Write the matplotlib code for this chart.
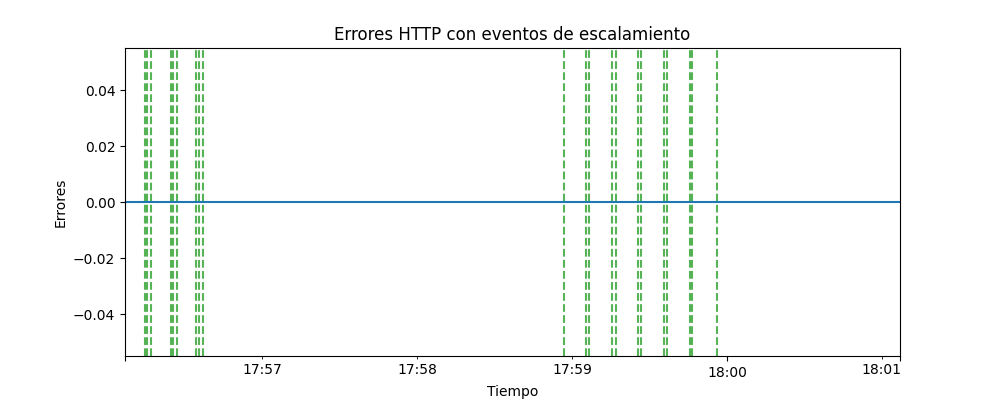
import pandas as pd
import matplotlib
matplotlib.use('Agg')
import matplotlib.pyplot as plt
import matplotlib.dates as mdates

# %%
day = '2024-01-01 '

tiempo = ['17:56:07', '17:56:37', '17:57:07', '17:57:37', '17:58:07', '17:58:37',
          '17:59:07', '17:59:37', '18:00:07', '18:00:37', '18:01:07']
errores = [0, 0, 0, 0, 0, 0, 0, 0, 0, 0, 0]

# eventos de escalamiento
eventos = ['17:56:14.9', '17:56:15.7', '17:56:17.0',
           '17:56:24.9', '17:56:25.7', '17:56:27.0',
           '17:56:34.6', '17:56:35.8', '17:56:37.0',
           '17:58:56.9',
           '17:59:05.6', '17:59:06.8',
           '17:59:15.7', '17:59:16.9',
           '17:59:25.6', '17:59:26.8',
           '17:59:35.6', '17:59:36.8',
           '17:59:45.8', '17:59:46.5',
           '17:59:56.0']

major_ticks = ['17:56:07', '18:00:00', '18:01:07']
major_labels = ['', '18:00', '']
minor_ticks = ['17:57:00', '17:58:00', '17:59:00', '18:01:00']
minor_labels = ['17:57', '17:58', '17:59', '18:01']

# %%
t = pd.to_datetime([day + s for s in tiempo])
ev = pd.to_datetime([day + s for s in eventos])

fig, ax = plt.subplots(figsize=(10, 4), dpi=100)
for e in ev:
    ax.axvline(mdates.date2num(e), color='tab:green', linestyle='--', alpha=0.8)
ax.plot(mdates.date2num(t), errores, color='tab:blue')

ax.set_xlim(mdates.date2num(t[0]), mdates.date2num(t[-1]))
ax.set_xticks(mdates.date2num(pd.to_datetime([day + s for s in major_ticks])), labels=major_labels)
ax.set_xticks(mdates.date2num(pd.to_datetime([day + s for s in minor_ticks])), labels=minor_labels, minor=True)

ax.set(xlabel='Tiempo', ylabel='Errores', title='Errores HTTP con eventos de escalamiento')
plt.savefig('out.png', dpi=100)
